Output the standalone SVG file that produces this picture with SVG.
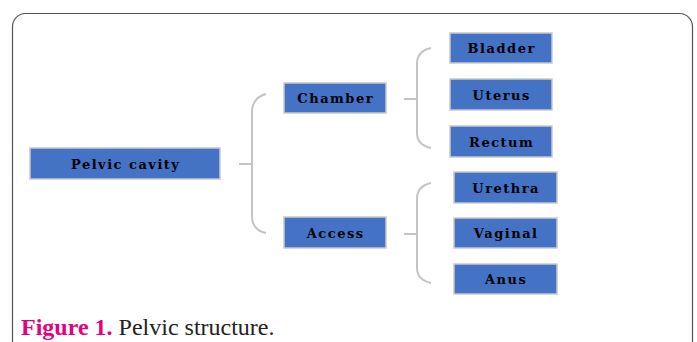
<svg xmlns="http://www.w3.org/2000/svg" width="697" height="342" viewBox="0 0 697 342">
<style>
.box{fill:#4472C4;stroke:#c9c9c9;stroke-width:1.5}
.lbl{font-family:'DejaVu Serif','Liberation Serif',serif;font-weight:bold;font-size:13px;fill:#000;text-anchor:middle;letter-spacing:1.5px}
.br{fill:none;stroke:#c4c4c4;stroke-width:2}
.cap{font-family:'Liberation Serif','DejaVu Serif',serif;font-size:24px}
</style>
<rect x="12.5" y="13.5" width="680" height="345" rx="13" fill="#fff" stroke="#555" stroke-width="1.2"/>
<g id="connectors">
<line class="br" x1="239" y1="164" x2="252" y2="164"/>
<path class="br" d="M266,94 Q252,98 252,112 L252,216 Q252,230 266,233"/>
<line class="br" x1="404" y1="99" x2="417" y2="99"/>
<path class="br" d="M431,48 Q417,51 417,64 L417,133 Q417,145 431,148"/>
<line class="br" x1="404" y1="234" x2="417" y2="234"/>
<path class="br" d="M431,183 Q417,186 417,199 L417,268 Q417,280 431,283"/>
</g>
<g id="pelvic"><rect class="box" x="30" y="148" width="190" height="31"/><text class="lbl" x="125.7" y="168.5">Pelvic cavity</text></g>
<g id="chamber"><rect class="box" x="284" y="83" width="102" height="30"/><text class="lbl" x="335.7" y="102.5">Chamber</text></g>
<g id="access"><rect class="box" x="284" y="217" width="102" height="31"/><text class="lbl" x="335.7" y="237.5">Access</text></g>
<g id="bladder"><rect class="box" x="450" y="33" width="102" height="30"/><text class="lbl" x="501.7" y="53">Bladder</text></g>
<g id="uterus"><rect class="box" x="450" y="79" width="102" height="31"/><text class="lbl" x="501.7" y="99.5">Uterus</text></g>
<g id="rectum"><rect class="box" x="450" y="126" width="102" height="31"/><text class="lbl" x="501.7" y="146.5">Rectum</text></g>
<g id="urethra"><rect class="box" x="454" y="172" width="103" height="31"/><text class="lbl" x="506.2" y="192.5">Urethra</text></g>
<g id="vaginal"><rect class="box" x="454" y="218" width="103" height="30"/><text class="lbl" x="506.2" y="238">Vaginal</text></g>
<g id="anus"><rect class="box" x="454" y="264" width="103" height="30"/><text class="lbl" x="506.2" y="284">Anus</text></g>
<text class="cap" x="21" y="335"><tspan font-weight="bold" fill="#E5007E">Figure 1.</tspan><tspan fill="#222"> Pelvic structure.</tspan></text>
</svg>
